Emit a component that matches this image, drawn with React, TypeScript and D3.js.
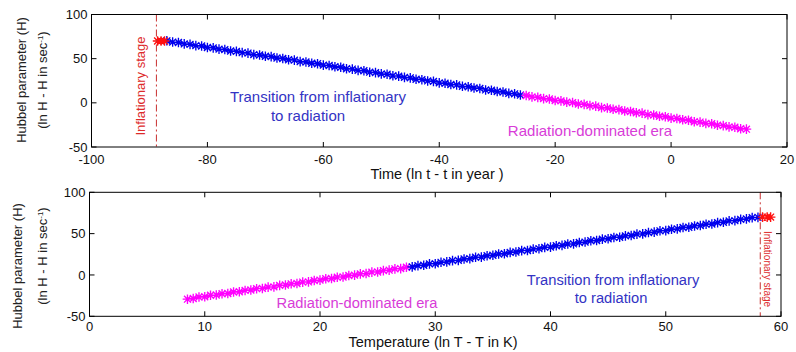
import React from "react";
import * as d3 from "d3";

// ---------- data ----------
const topXTicks = [-100, -80, -60, -40, -20, 0, 20];
const topYTicks = [-50, 0, 50, 100];
const botXTicks = [0, 10, 20, 30, 40, 50, 60];
const botYTicks = [-50, 0, 50, 100];

const topInflationLine = -88.8;
const botInflationLine = 58.2;

const topRed: [number, number][] = [[-88.6, 70], [-88.0, 70], [-87.4, 70]];
const topBlue: [number, number][] = [
  [-87, 70.2], [-86, 68.8], [-85, 68.3], [-84, 66.7], [-83, 66.2], [-82, 64.8], [-81, 64.3], [-80, 62.6],
  [-79, 62.2], [-78, 60.8], [-77, 60.3], [-76, 58.7], [-75, 58.2], [-74, 56.8], [-73, 56.3], [-72, 54.6],
  [-71, 54.2], [-70, 52.8], [-69, 52.3], [-68, 50.7], [-67, 50.2], [-66, 48.8], [-65, 48.3], [-64, 46.6],
  [-63, 46.2], [-62, 44.8], [-61, 44.3], [-60, 42.7], [-59, 42.2], [-58, 40.8], [-57, 40.3], [-56, 38.6],
  [-55, 38.2], [-54, 36.8], [-53, 36.3], [-52, 34.7], [-51, 34.2], [-50, 32.8], [-49, 32.3], [-48, 30.6],
  [-47, 30.2], [-46, 28.8], [-45, 28.3], [-44, 26.7], [-43, 26.2], [-42, 24.8], [-41, 24.3], [-40, 22.6],
  [-39, 22.2], [-38, 20.8], [-37, 20.3], [-36, 18.7], [-35, 18.2], [-34, 16.8], [-33, 16.3], [-32, 14.6],
  [-31, 14.2], [-30, 12.8], [-29, 12.3], [-28, 10.7], [-27, 10.2], [-26, 8.8],
];
const topMagenta: [number, number][] = [
  [-25, 8.3], [-24, 6.7], [-23, 6.2], [-22, 4.8], [-21, 4.3], [-20, 2.6], [-19, 2.2], [-18, 0.8],
  [-17, 0.3], [-16, -1.3], [-15, -1.8], [-14, -3.2], [-13, -3.7], [-12, -5.4], [-11, -5.8], [-10, -7.2],
  [-9, -7.7], [-8, -9.3], [-7, -9.8], [-6, -11.2], [-5, -11.7], [-4, -13.4], [-3, -13.8], [-2, -15.2],
  [-1, -15.7], [0, -17.3], [1, -17.8], [2, -19.2], [3, -19.7], [4, -21.4], [5, -21.8], [6, -23.2],
  [7, -23.7], [8, -25.3], [9, -25.8], [10, -27.2], [11, -27.7], [12, -29.3], [13, -29.8],
];

const botMagenta: [number, number][] = [
  [8.5, -29.3], [9, -28.4], [9.5, -26.6], [10, -26.3], [10.5, -24.6], [11, -24.3], [11.5, -22.7], [12, -22.4],
  [12.5, -20.6], [13, -20.3], [13.5, -18.7], [14, -18.2], [14.5, -16.6], [15, -16.3], [15.5, -14.7], [16, -14.4],
  [16.5, -12.6], [17, -12.2], [17.5, -10.7], [18, -10.3], [18.5, -8.6], [19, -8.4], [19.5, -6.7], [20, -6.2],
  [20.5, -4.6], [21, -4.3], [21.5, -2.7], [22, -2.4], [22.5, -0.6], [23, -0.2], [23.5, 1.3], [24, 1.7],
  [24.5, 3.4], [25, 3.6], [25.5, 5.3], [26, 5.8], [26.5, 7.4], [27, 7.7], [27.5, 9.3],
];
const botBlue: [number, number][] = [
  [28, 9.8], [28.5, 11.3], [29, 11.7], [29.5, 13.4], [30, 13.6], [30.5, 15.3], [31, 15.8], [31.5, 17.4],
  [32, 17.7], [32.5, 19.3], [33, 19.8], [33.5, 21.4], [34, 21.6], [34.5, 23.3], [35, 23.8], [35.5, 25.4],
  [36, 25.7], [36.5, 27.3], [37, 27.8], [37.5, 29.4], [38, 29.6], [38.5, 31.3], [39, 31.8], [39.5, 33.4],
  [40, 33.7], [40.5, 35.3], [41, 35.8], [41.5, 37.4], [42, 37.6], [42.5, 39.3], [43, 39.8], [43.5, 41.4],
  [44, 41.7], [44.5, 43.3], [45, 43.8], [45.5, 45.4], [46, 45.6], [46.5, 47.3], [47, 47.8], [47.5, 49.4],
  [48, 49.7], [48.5, 51.3], [49, 51.8], [49.5, 53.4], [50, 53.6], [50.5, 55.3], [51, 55.8], [51.5, 57.4],
  [52, 57.7], [52.5, 59.3], [53, 59.8], [53.5, 61.4], [54, 61.6], [54.5, 63.3], [55, 63.8], [55.5, 65.4],
  [56, 65.7], [56.5, 67.3], [57, 67.8], [57.5, 69.4], [58, 69.7],
];
const botRed: [number, number][] = [[58.4, 70], [58.8, 70], [59.1, 70]];

// ---------- styles ----------
const FONT = "'Liberation Sans', Arial, Helvetica, sans-serif";
const BLUE = "#0000ee";
const MAGENTA = "#ff00ff";
const RED = "#ff1010";
const BLUE_TXT = "#3333c4";
const MAG_TXT = "#d83cd8";
const RED_TXT = "#dd2a2a";

function starPath(pts: [number, number][], x: (v: number) => number, y: (v: number) => number, r: number) {
  const d = r * 0.72;
  return pts
    .map(([a, b]) => {
      const px = x(a), py = y(b);
      return `M${px - r},${py}h${2 * r}M${px},${py - r}v${2 * r}M${px - d},${py - d}l${2 * d},${2 * d}M${px - d},${py + d}l${2 * d},${-2 * d}`;
    })
    .join("");
}

type PanelProps = {
  left: number; right: number; top: number; bottom: number;
  xDomain: [number, number]; xTicks: number[]; yTicks: number[];
  series: { pts: [number, number][]; color: string }[];
  vline: number;
  xLabel: string; xLabelX: number; xLabelY: number; xTickY: number;
  yLabX1: number; yLabX2: number; yLabC1: number; yLabC2: number;
  children?: React.ReactNode;
};

function Panel(p: PanelProps) {
  const x = d3.scaleLinear().domain(p.xDomain).range([p.left, p.right]);
  const y = d3.scaleLinear().domain([-50, 100]).range([p.bottom, p.top]);
  const tl = 5;
  return (
    <g>
      {p.series.map((s, i) => (
        <path key={i} d={starPath(s.pts, x, y, 4.8)} stroke={s.color} strokeWidth={1.35} fill="none" />
      ))}
      <line x1={x(p.vline)} x2={x(p.vline)} y1={p.top} y2={p.bottom} stroke="#c83030" strokeWidth={1} strokeDasharray="7,3,2,3" />
      <rect x={p.left} y={p.top} width={p.right - p.left} height={p.bottom - p.top} fill="none" stroke="#000" strokeWidth={1} />
      {p.xTicks.map((t) => (
        <g key={"x" + t}>
          <line x1={x(t)} x2={x(t)} y1={p.bottom} y2={p.bottom - tl} stroke="#000" />
          <line x1={x(t)} x2={x(t)} y1={p.top} y2={p.top + tl} stroke="#000" />
          <text x={x(t)} y={p.xTickY} textAnchor="middle" fontSize={13} fontFamily={FONT} fill="#111">{t}</text>
        </g>
      ))}
      {p.yTicks.map((t) => (
        <g key={"y" + t}>
          <line x1={p.left} x2={p.left + tl} y1={y(t)} y2={y(t)} stroke="#000" />
          <line x1={p.right} x2={p.right - tl} y1={y(t)} y2={y(t)} stroke="#000" />
          <text x={p.left - 4} y={y(t) + 4.6} textAnchor="end" fontSize={13} fontFamily={FONT} fill="#111">{t}</text>
        </g>
      ))}
      <text x={p.xLabelX} y={p.xLabelY} textAnchor="middle" fontSize={14.5} fontFamily={FONT} fill="#111">{p.xLabel}</text>
      <text transform={`translate(${p.yLabX1},${p.yLabC1}) rotate(-90)`} textAnchor="middle" fontSize={13} fontFamily={FONT} fill="#222">Hubbel parameter (H)</text>
      <text transform={`translate(${p.yLabX2},${p.yLabC2}) rotate(-90)`} textAnchor="middle" fontSize={13} fontFamily={FONT} fill="#222">
        (ln H - H in sec<tspan dy={-4} fontSize={8}>-1</tspan><tspan dy={4}>)</tspan>
      </text>
      {p.children}
    </g>
  );
}

export default function App() {
  return (
    <svg width={796} height={352} style={{ position: "absolute", left: 0, top: 0, background: "#fff" }}>
      <Panel
        left={91.5} right={787} top={14.5} bottom={147}
        xDomain={[-100, 20]} xTicks={topXTicks} yTicks={topYTicks}
        series={[{ pts: topBlue, color: BLUE }, { pts: topMagenta, color: MAGENTA }, { pts: topRed, color: RED }]}
        vline={topInflationLine}
        xLabel="Time (ln t - t in year )" xLabelX={437} xLabelY={179} xTickY={163.5}
        yLabX1={26} yLabX2={47} yLabC1={80} yLabC2={80}
      >
        <g fontFamily={FONT}>
          <text x={318} y={101.5} textAnchor="middle" fontSize={15} fill={BLUE_TXT}>Transition from inflationary</text>
          <text x={308} y={120.5} textAnchor="middle" fontSize={15} fill={BLUE_TXT}>to radiation</text>
          <text x={590} y={136} textAnchor="middle" fontSize={15} fill={MAG_TXT}>Radiation-dominated era</text>
          <text transform="translate(144.5,86) rotate(-90)" textAnchor="middle" fontSize={13} fill={RED_TXT}>Inflationary stage</text>
        </g>
      </Panel>
      <Panel
        left={89.5} right={781} top={192.3} bottom={316.3}
        xDomain={[0, 60]} xTicks={botXTicks} yTicks={botYTicks}
        series={[{ pts: botMagenta, color: MAGENTA }, { pts: botBlue, color: BLUE }, { pts: botRed, color: RED }]}
        vline={botInflationLine}
        xLabel="Temperature (ln T - T in K)" xLabelX={433} xLabelY={347} xTickY={331}
        yLabX1={22} yLabX2={47} yLabC1={266} yLabC2={256}
      >
        <g fontFamily={FONT}>
          <text x={613} y={285} textAnchor="middle" fontSize={14.7} fill={BLUE_TXT}>Transition from inflationary</text>
          <text x={611} y={302.5} textAnchor="middle" fontSize={14.7} fill={BLUE_TXT}>to radiation</text>
          <text x={357} y={307.5} textAnchor="middle" fontSize={14.7} fill={MAG_TXT}>Radiation-dominated era</text>
          <text transform="translate(764,269) rotate(90)" textAnchor="middle" fontSize={10} fill={RED_TXT}>Inflationary stage</text>
        </g>
      </Panel>
    </svg>
  );
}
